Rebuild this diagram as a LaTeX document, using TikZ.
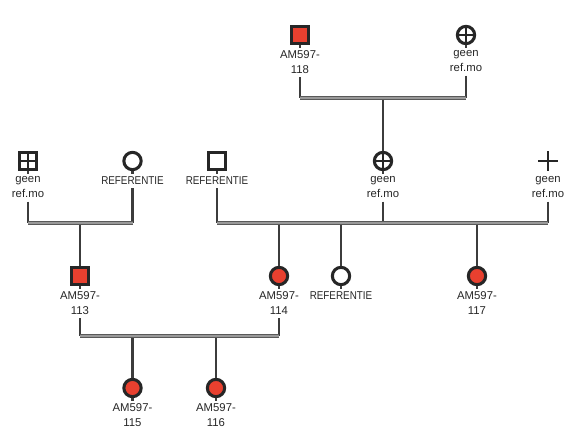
\documentclass[tikz,border=0pt]{standalone}
\usepackage{fontspec}
\setsansfont{Liberation Sans}
\usetikzlibrary{positioning}
\definecolor{pedred}{HTML}{E8402F}
\definecolor{pedline}{HTML}{262626}
\tikzset{
  sym/.style={draw=pedline, line width=2.3pt, minimum size=13pt, inner sep=0pt},
  male/.style={sym, rectangle},
  female/.style={sym, circle},
  ill/.style={fill=pedred},
  crossed/.style={path picture={
      \draw[line width=2pt,pedline] (path picture bounding box.north) -- (path picture bounding box.south)
        (path picture bounding box.west) -- (path picture bounding box.east);}},
  plussign/.style={minimum size=15pt, inner sep=0pt, crossed},
  lab/.style={font=\sffamily\fontsize{8.5}{11.25}\selectfont, text=black!85, align=center, inner sep=0pt, below=4pt of #1},
  ref/.style={lab=#1, xscale=0.87},
  desc/.style={draw=pedline!90, line width=2.1pt},
  mate/.style={draw=black!65, line width=0.7pt, double=black!40, double distance=1.7pt},
}
\begin{document}
\begin{tikzpicture}[x=0.75pt, y=-0.75pt]
  \useasboundingbox (0,0) rectangle (570,428);
  % generation 1
  \node[male, ill] (s118) at (300,35) {};
  \node[female, crossed] (g1) at (466,35) {};
  % generation 2
  \node[male, crossed] (g2) at (28,161) {};
  \node[female] (r1) at (132.5,161) {};
  \node[male] (r2) at (217,161) {};
  \node[female, crossed] (g3) at (383,161) {};
  \node[plussign] (g4) at (548,161) {};
  % generation 3
  \node[male, ill] (s113) at (80,276) {};
  \node[female, ill] (s114) at (279,276) {};
  \node[female] (r3) at (341,276) {};
  \node[female, ill] (s117) at (477,276) {};
  % generation 4
  \node[female, ill] (s115) at (132.5,388) {};
  \node[female, ill] (s116) at (216,388) {};
  %
  \node[lab=s118] (l118) {AM597-\\118};
  \node[lab=g1] (lg1) {geen\\ref.mo};
  \node[lab=g2] (lg2) {geen\\ref.mo};
  \node[ref=r1] (lr1) {REFERENTIE};
  \node[ref=r2] (lr2) {REFERENTIE};
  \node[lab=g3] (lg3) {geen\\ref.mo};
  \node[lab=g4] (lg4) {geen\\ref.mo};
  \node[lab=s113] (l113) {AM597-\\113};
  \node[lab=s114] (l114) {AM597-\\114};
  \node[ref=r3] (lr3) {REFERENTIE};
  \node[lab=s117] (l117) {AM597-\\117};
  \node[lab=s115] (l115) {AM597-\\115};
  \node[lab=s116] (l116) {AM597-\\116};
  %
  \coordinate (m1) at (383,98);
  \coordinate (m2) at (80,223);
  \coordinate (m3) at (300,223);
  \coordinate (m4) at (180,336);
  % small stubs below the symbols
  \foreach \n in {s118,g1,g2,r1,r2,g3,s113,s114,r3,s117,s115,s116}
    \draw[desc] (\n.south) -- ++(0,-2pt);
  % lines down to the couple lines
  \foreach \l/\m in {l118/m1, lg1/m1, lg2/m2, lr1/m2, lr2/m3, lg3/m3, lg4/m3, l113/m4, l114/m4}
    \draw[desc] ([yshift=-2.5pt]\l.south) -- (\l.south |- \m);
  % children
  \draw[desc] (m1) -- (g3.north);
  \draw[desc] (m2) -- (s113.north);
  \foreach \c in {s114,r3,s117}
    \draw[desc] (\c |- m3) -- (\c.north);
  \foreach \c in {s115,s116}
    \draw[desc] (\c |- m4) -- (\c.north);
  % couple lines
  \draw[mate] (l118.south |- m1) -- (lg1.south |- m1);
  \draw[mate] (lg2.south |- m2) -- (lr1.south |- m2);
  \draw[mate] (lr2.south |- m3) -- (lg4.south |- m3);
  \draw[mate] (l113.south |- m4) -- (l114.south |- m4);
\end{tikzpicture}
\end{document}
